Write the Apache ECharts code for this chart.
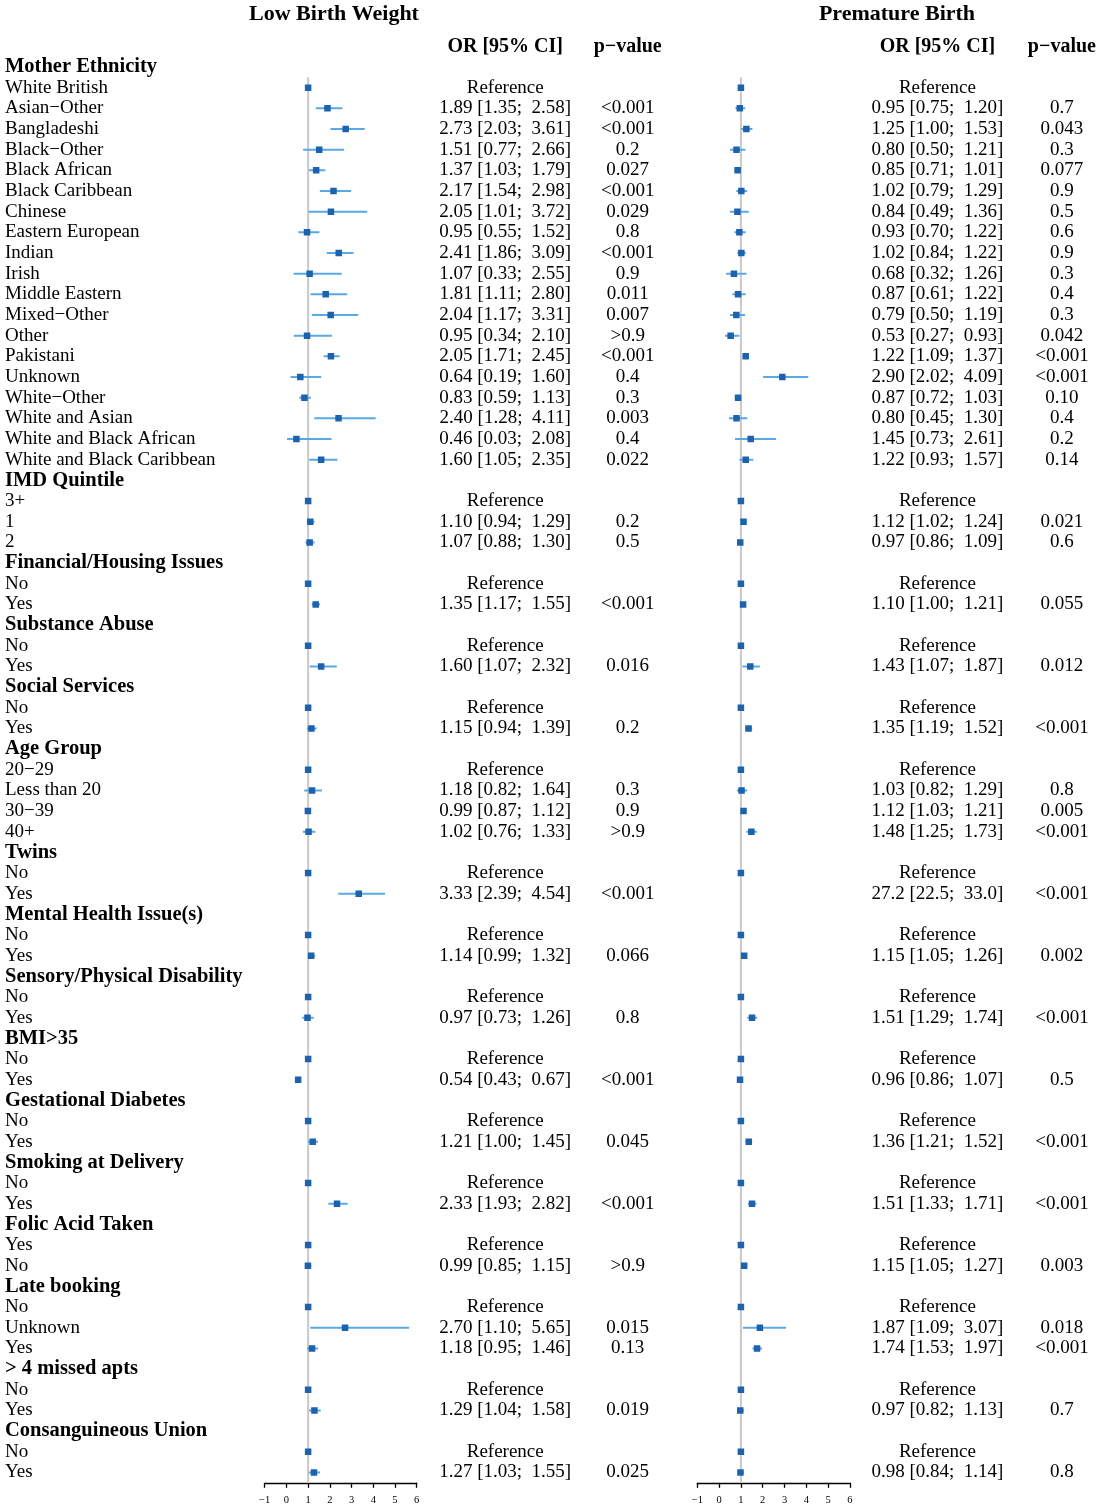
<!DOCTYPE html>
<html style="height: 100%">
<head>
    <meta charset="utf-8">
    <title>forest</title>
    <style>
    body { margin: 0; background: #fff; }
    #container { width: 1100px; height: 1507px; }
    </style>
</head>
<body>
<div id="container"></div>
<script src="https://cdn.jsdelivr.net/npm/echarts@6/dist/echarts.min.js"></script>
<script>
// row labels, group headers are marked in groupRows
var rowLabels = ['Mother Ethnicity', 'White British', 'Asian\u2212Other', 'Bangladeshi', 'Black\u2212Other', 'Black African',
    'Black Caribbean', 'Chinese', 'Eastern European', 'Indian', 'Irish', 'Middle Eastern', 'Mixed\u2212Other', 'Other',
    'Pakistani', 'Unknown', 'White\u2212Other', 'White and Asian', 'White and Black African', 'White and Black Caribbean',
    'IMD Quintile', '3+', '1', '2',
    'Financial/Housing Issues', 'No', 'Yes',
    'Substance Abuse', 'No', 'Yes',
    'Social Services', 'No', 'Yes',
    'Age Group', '20\u221229', 'Less than 20', '30\u221239', '40+',
    'Twins', 'No', 'Yes',
    'Mental Health Issue(s)', 'No', 'Yes',
    'Sensory/Physical Disability', 'No', 'Yes',
    'BMI>35', 'No', 'Yes',
    'Gestational Diabetes', 'No', 'Yes',
    'Smoking at Delivery', 'No', 'Yes',
    'Folic Acid Taken', 'Yes', 'No',
    'Late booking', 'No', 'Unknown', 'Yes',
    '> 4 missed apts', 'No', 'Yes',
    'Consanguineous Union', 'No', 'Yes'];
var groupRows = [0, 20, 24, 27, 30, 33, 38, 41, 44, 47, 50, 53, 56, 59, 63, 66];

// Low Birth Weight
var lbwOR = [null, 1, 1.89, 2.73, 1.51, 1.37, 2.17, 2.05, 0.95, 2.41, 1.07, 1.81, 2.04, 0.95, 2.05, 0.64, 0.83, 2.40, 0.46, 1.60,
    null, 1, 1.10, 1.07, null, 1, 1.35, null, 1, 1.60, null, 1, 1.15, null, 1, 1.18, 0.99, 1.02,
    null, 1, 3.33, null, 1, 1.14, null, 1, 0.97, null, 1, 0.54, null, 1, 1.21, null, 1, 2.33,
    null, 1, 0.99, null, 1, 2.70, 1.18, null, 1, 1.29, null, 1, 1.27];
var lbwLo = [null, null, 1.35, 2.03, 0.77, 1.03, 1.54, 1.01, 0.55, 1.86, 0.33, 1.11, 1.17, 0.34, 1.71, 0.19, 0.59, 1.28, 0.03, 1.05,
    null, null, 0.94, 0.88, null, null, 1.17, null, null, 1.07, null, null, 0.94, null, null, 0.82, 0.87, 0.76,
    null, null, 2.39, null, null, 0.99, null, null, 0.73, null, null, 0.43, null, null, 1.00, null, null, 1.93,
    null, null, 0.85, null, null, 1.10, 0.95, null, null, 1.04, null, null, 1.03];
var lbwHi = [null, null, 2.58, 3.61, 2.66, 1.79, 2.98, 3.72, 1.52, 3.09, 2.55, 2.80, 3.31, 2.10, 2.45, 1.60, 1.13, 4.11, 2.08, 2.35,
    null, null, 1.29, 1.30, null, null, 1.55, null, null, 2.32, null, null, 1.39, null, null, 1.64, 1.12, 1.33,
    null, null, 4.54, null, null, 1.32, null, null, 1.26, null, null, 0.67, null, null, 1.45, null, null, 2.82,
    null, null, 1.15, null, null, 5.65, 1.46, null, null, 1.58, null, null, 1.55];
var lbwP = ['', '', '<0.001', '<0.001', '0.2', '0.027', '<0.001', '0.029', '0.8', '<0.001', '0.9', '0.011', '0.007', '>0.9',
    '<0.001', '0.4', '0.3', '0.003', '0.4', '0.022',
    '', '', '0.2', '0.5', '', '', '<0.001', '', '', '0.016', '', '', '0.2', '', '', '0.3', '0.9', '>0.9',
    '', '', '<0.001', '', '', '0.066', '', '', '0.8', '', '', '<0.001', '', '', '0.045', '', '', '<0.001',
    '', '', '>0.9', '', '', '0.015', '0.13', '', '', '0.019', '', '', '0.025'];

// Premature Birth
var pbOR = [null, 1, 0.95, 1.25, 0.80, 0.85, 1.02, 0.84, 0.93, 1.02, 0.68, 0.87, 0.79, 0.53, 1.22, 2.90, 0.87, 0.80, 1.45, 1.22,
    null, 1, 1.12, 0.97, null, 1, 1.10, null, 1, 1.43, null, 1, 1.35, null, 1, 1.03, 1.12, 1.48,
    null, 1, 27.2, null, 1, 1.15, null, 1, 1.51, null, 1, 0.96, null, 1, 1.36, null, 1, 1.51,
    null, 1, 1.15, null, 1, 1.87, 1.74, null, 1, 0.97, null, 1, 0.98];
var pbLo = [null, null, 0.75, 1.00, 0.50, 0.71, 0.79, 0.49, 0.70, 0.84, 0.32, 0.61, 0.50, 0.27, 1.09, 2.02, 0.72, 0.45, 0.73, 0.93,
    null, null, 1.02, 0.86, null, null, 1.00, null, null, 1.07, null, null, 1.19, null, null, 0.82, 1.03, 1.25,
    null, null, 22.5, null, null, 1.05, null, null, 1.29, null, null, 0.86, null, null, 1.21, null, null, 1.33,
    null, null, 1.05, null, null, 1.09, 1.53, null, null, 0.82, null, null, 0.84];
var pbHi = [null, null, 1.20, 1.53, 1.21, 1.01, 1.29, 1.36, 1.22, 1.22, 1.26, 1.22, 1.19, 0.93, 1.37, 4.09, 1.03, 1.30, 2.61, 1.57,
    null, null, 1.24, 1.09, null, null, 1.21, null, null, 1.87, null, null, 1.52, null, null, 1.29, 1.21, 1.73,
    null, null, 33.0, null, null, 1.26, null, null, 1.74, null, null, 1.07, null, null, 1.52, null, null, 1.71,
    null, null, 1.27, null, null, 3.07, 1.97, null, null, 1.13, null, null, 1.14];
var pbP = ['', '', '0.7', '0.043', '0.3', '0.077', '0.9', '0.5', '0.6', '0.9', '0.3', '0.4', '0.3', '0.042', '<0.001',
    '<0.001', '0.10', '0.4', '0.2', '0.14',
    '', '', '0.021', '0.6', '', '', '0.055', '', '', '0.012', '', '', '<0.001', '', '', '0.8', '0.005', '<0.001',
    '', '', '<0.001', '', '', '0.002', '', '', '<0.001', '', '', '0.5', '', '', '<0.001', '', '', '<0.001',
    '', '', '0.003', '', '', '0.018', '<0.001', '', '', '0.7', '', '', '0.8'];

var panelTitles = ['Low Birth Weight', 'Premature Birth'];
var colHeaders = ['OR [95% CI]', 'p\u2212value'];
var xTicks = [-1, 6, 1];   // min, max, interval
var nullValue = 1;

var FONT = 'Liberation Serif';
var N = rowLabels.length + 1;   // first line holds the column headers

function fmt(v) {
    return v >= 10 ? v.toFixed(1) : v.toFixed(2);
}
function orText(or, lo, hi) {
    return or.map(function (v, i) {
        if (v === null) return '';
        if (lo[i] === null) return 'Reference';
        return fmt(v) + ' [' + fmt(lo[i]) + ';  ' + fmt(hi[i]) + ']';
    });
}
function points(or, lo, hi) {
    var d = [];
    or.forEach(function (v, i) {
        if (v === null) return;
        d.push([v, lo[i] === null ? v : lo[i], hi[i] === null ? v : hi[i], i + 1]);
    });
    return d;
}

var groupText = { fontFamily: FONT, fontSize: 20.5, fontWeight: 'bold', color: '#000' };
var headText = { fontFamily: FONT, fontSize: 20, fontWeight: 'bold', color: '#000' };

function textAxis(gridIndex, position, data, align, margin, boldFn, boldStyle) {
    return {
        type: 'category', gridIndex: gridIndex, position: position, inverse: true,
        data: data,
        axisLine: { show: false }, axisTick: { show: false }, splitLine: { show: false },
        axisLabel: {
            interval: 0, align: align, margin: margin, hideOverlap: false,
            fontFamily: FONT, fontSize: 19, color: '#000',
            formatter: function (v, i) { return boldFn(i) ? '{b|' + v + '}' : v; },
            rich: { b: boldStyle }
        }
    };
}

var grids = [
    { left: 264.7, width: 152, top: 36, bottom: 24.2 },
    { left: 697.3, width: 152.6, top: 36, bottom: 24.2 }
];

var panels = [
    { or: lbwOR, lo: lbwLo, hi: lbwHi, p: lbwP },
    { or: pbOR, lo: pbLo, hi: pbHi, p: pbP }
];

var xAxes = [], yAxes = [], series = [];
panels.forEach(function (pn, g) {
    xAxes.push({
        type: 'value', gridIndex: g, min: xTicks[0], max: xTicks[1], interval: xTicks[2],
        position: 'bottom',
        axisLine: { show: true, onZero: false, lineStyle: { color: '#000', width: 1.3 } },
        axisTick: { show: true, length: 5, lineStyle: { color: '#000', width: 1.3 } },
        splitLine: { show: false },
        axisLabel: {
            fontFamily: FONT, fontSize: 10.5, color: '#000', margin: 12,
            formatter: function (v) { return v < 0 ? '\u2212' + Math.abs(v) : String(v); }
        }
    });
    var base = yAxes.length;
    // numeric axis for the marks
    yAxes.push({
        type: 'value', gridIndex: g, inverse: true, min: -0.5, max: N - 0.5,
        show: false
    });
    var orCol = [colHeaders[0]].concat(orText(pn.or, pn.lo, pn.hi));
    var pCol = [colHeaders[1]].concat(pn.p);
    var isHead = function (i) { return i === 0; };
    yAxes.push(textAxis(g, 'right', orCol, 'center', g === 0 ? 88.5 : 87.5, isHead, headText));
    yAxes.push(textAxis(g, 'right', pCol, 'center', g === 0 ? 211 : 212, isHead, headText));
    if (g === 0) {
        var names = [''].concat(rowLabels);
        yAxes.push(textAxis(g, 'left', names, 'left', 259.7, function (i) {
            return groupRows.indexOf(i - 1) >= 0;
        }, groupText));
    }

    // reference line at OR = 1
    series.push({
        type: 'line', xAxisIndex: g, yAxisIndex: base, silent: true, symbol: 'none',
        lineStyle: { color: '#c9c9c9', width: 2 },
        data: [[nullValue, 1.5], [nullValue, N - 0.5]],
        z: 1
    });
    // confidence intervals and point estimates
    series.push({
        type: 'custom', xAxisIndex: g, yAxisIndex: base, clip: true,
        encode: { x: [0, 1, 2], y: 3 },
        data: points(pn.or, pn.lo, pn.hi),
        renderItem: function (params, api) {
            var est = api.value(0);
            if (est > xTicks[1] || est < xTicks[0]) return;
            var row = api.value(3);
            var a = api.coord([api.value(1), row]);
            var b = api.coord([api.value(2), row]);
            var c = api.coord([est, row]);
            var s = 6.5;
            var kids = [];
            if (b[0] - a[0] > 0.5) {
                kids.push({
                    type: 'line',
                    shape: { x1: a[0], y1: a[1], x2: b[0], y2: b[1] },
                    style: { stroke: '#58a9e5', lineWidth: 2 }
                });
            }
            kids.push({
                type: 'rect',
                shape: { x: c[0] - s / 2, y: c[1] - s / 2, width: s, height: s },
                style: { fill: '#1c62ac' }
            });
            return { type: 'group', children: kids };
        },
        z: 3
    });
});

var chart = echarts.init(document.getElementById('container'), null, { renderer: 'canvas' });
chart.setOption({
    backgroundColor: '#fff',
    animation: false,
    title: [
        { text: panelTitles[0], left: 329, top: -2, textAlign: 'center',
          textStyle: { fontFamily: FONT, fontSize: 22, fontWeight: 'bold', color: '#000' } },
        { text: panelTitles[1], left: 892, top: -2, textAlign: 'center',
          textStyle: { fontFamily: FONT, fontSize: 22, fontWeight: 'bold', color: '#000' } }
    ],
    grid: grids,
    xAxis: xAxes,
    yAxis: yAxes,
    series: series
});
</script>
</body>
</html>
